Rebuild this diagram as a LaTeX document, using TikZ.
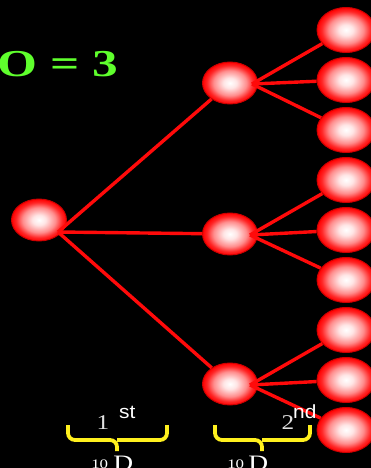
\documentclass[tikz,border=0pt]{standalone}
\usepackage{fontspec}
\setmainfont{Liberation Serif}
\newfontfamily\sansf{Liberation Sans}
\usetikzlibrary{shapes.geometric}
\definecolor{lime}{RGB}{95,255,45}
\definecolor{bry}{RGB}{255,240,30}
\definecolor{lred}{RGB}{255,10,10}
\definecolor{txtgray}{RGB}{225,225,225}
\pgfdeclareradialshading{ball}{\pgfpoint{0bp}{0bp}}{color(0bp)=(white); color(6bp)=(white!90!red); color(15bp)=(red!45!white); color(21bp)=(red!85!white); color(25bp)=(red); color(50bp)=(red)}
\tikzset{
  ballnode/.style={ellipse, shading=ball, draw=red!80!black, line width=0.9pt, inner sep=0pt},
  rootball/.style={ballnode, minimum width=55pt, minimum height=42pt},
  midball/.style={ballnode, minimum width=55pt, minimum height=42pt},
  leafball/.style={ballnode, minimum width=58pt, minimum height=45pt},
  link/.style={draw=lred, line width=3.4pt},
  bracestyle/.style={draw=bry, line width=3.8pt, rounded corners=7pt},
  ordnum/.style={text=txtgray, font=\fontsize{21}{21}\selectfont, inner sep=0pt, xscale=1.2},
  ordsup/.style={text=white, font=\sansf\fontsize{19}{19}\selectfont, inner sep=0pt, xscale=1.1},
  tennum/.style={text=white, font=\fontsize{13}{13}\selectfont, inner sep=0pt, xscale=1.3},
  dlet/.style={text=white, font=\fontsize{22}{22}\selectfont, inner sep=0pt, xscale=1.25}
}
\begin{document}
\begin{tikzpicture}[x=1pt, y=-1pt]
\fill[black] (0,0) rectangle (371,468);
\useasboundingbox (0,0) rectangle (371,468);
% title
\node[anchor=base west, inner sep=0pt, text=lime, font=\bfseries\fontsize{38}{38}\selectfont, xscale=1.35] (title) at (-3,77) {O = 3};
% nodes
\node[rootball] (r) at (39,220) {};
\node[midball] (a) at (230,83) {};
\node[midball] (b) at (230,234) {};
\node[midball] (c) at (230,384) {};
\foreach \i/\y in {1/30,2/80,3/130,4/180,5/230,6/280,7/330,8/380,9/430}
  \node[leafball] (l\i) at (346,\y) {};
% origins of connectors
\coordinate (ro) at (58,232);
\coordinate (ao) at (252,84);
\coordinate (bo) at (250,235);
\coordinate (co) at (250,385);
% connectors
\draw[link] (ro) -- (a);
\draw[link] (ro) -- (b);
\draw[link] (ro) -- (c);
\draw[link] (ao) -- (l1);
\draw[link] (ao) -- (l2);
\draw[link] (ao) -- (l3);
\draw[link] (bo) -- (l4);
\draw[link] (bo) -- (l5);
\draw[link] (bo) -- (l6);
\draw[link] (co) -- (l7);
\draw[link] (co) -- (l8);
\draw[link] (co) -- (l9);
% braces
\draw[bracestyle] (68,425) |- (117,440) -- (117,451);
\draw[bracestyle] (167,425) |- (117,440);
\draw[bracestyle] (215,425) |- (262,440) -- (262,451);
\draw[bracestyle] (310,425) |- (262,440);
% labels
\node[ordnum, anchor=base] (one) at (103,429) {1};
\node[ordsup, anchor=base west] (st) at (119,418) {st};
\node[ordnum, anchor=base] (two) at (288,429) {2};
\node[ordsup, anchor=base west] (nd) at (293,418) {nd};
\node[tennum, anchor=base west] (ten1) at (91,468) {10};
\node[dlet, anchor=base west] (d1) at (113,470) {D};
\node[tennum, anchor=base west] (ten2) at (227,468) {10};
\node[dlet, anchor=base west] (d2) at (248,470) {D};
\end{tikzpicture}
\end{document}
